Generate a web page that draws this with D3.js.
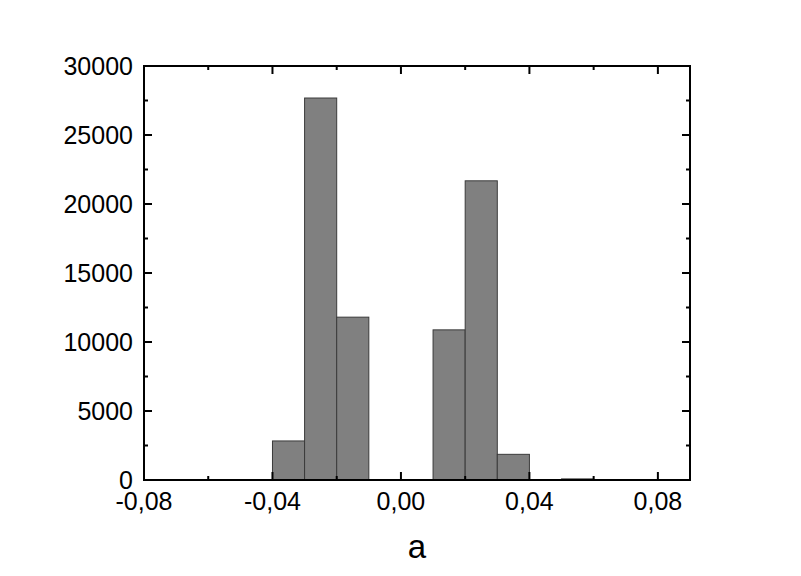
<!DOCTYPE html>
<html>
<head>
<meta charset="utf-8">
<script src="https://cdn.jsdelivr.net/npm/d3@7"></script>
<style>
  body { margin: 0; background: #fff; }
  text { font-family: "Liberation Sans", Arial, sans-serif; fill: #000; }
</style>
</head>
<body>
<svg id="svg" width="801" height="576"></svg>
<script>
// histogram bins (left edges, width 0.01) and counts
var binStarts = [-0.04, -0.03, -0.02, 0.01, 0.02, 0.03, 0.05]
var binCounts = [2830, 27680, 11800, 10880, 21680, 1860, 80]
var binWidth = 0.01

var xTicks = [-0.08, -0.04, 0.00, 0.04, 0.08]
var xMinor = [-0.06, -0.02, 0.02, 0.06]
var yTicks = [0, 5000, 10000, 15000, 20000, 25000, 30000]
var yMinor = [2500, 7500, 12500, 17500, 22500, 27500]
var xLabel = "a"

var pLeft = 144, pRight = 690, pTop = 66, pBottom = 480

var svg = d3.select("#svg")

var x = d3.scaleLinear().domain([-0.08, 0.09]).range([pLeft, pRight])
var y = d3.scaleLinear().domain([0, 30000]).range([pBottom, pTop])

var fmtX = function(d){ return d3.format(".2f")(d).replace(".", ",").replace("−", "-") }

// bars
svg.append("g").selectAll("rect")
  .data(binStarts)
  .enter().append("rect")
  .attr("x", d => x(d))
  .attr("width", d => x(d + binWidth) - x(d))
  .attr("y", (d, i) => y(binCounts[i]))
  .attr("height", (d, i) => y(0) - y(binCounts[i]))
  .attr("fill", "#808080")
  .attr("stroke", "#3a3a3a")
  .attr("stroke-width", 1)

// frame
svg.append("rect")
  .attr("x", pLeft).attr("y", pTop)
  .attr("width", pRight - pLeft).attr("height", pBottom - pTop)
  .attr("fill", "none").attr("stroke", "#000").attr("stroke-width", 2)

var ticks = svg.append("g").attr("stroke", "#000").attr("stroke-width", 2)
function xt(vals, len){
  vals.forEach(function(v){
    ticks.append("line").attr("x1", x(v)).attr("x2", x(v)).attr("y1", pBottom).attr("y2", pBottom - len)
    ticks.append("line").attr("x1", x(v)).attr("x2", x(v)).attr("y1", pTop).attr("y2", pTop + len)
  })
}
function yt(vals, len){
  vals.forEach(function(v){
    ticks.append("line").attr("y1", y(v)).attr("y2", y(v)).attr("x1", pLeft).attr("x2", pLeft + len)
    ticks.append("line").attr("y1", y(v)).attr("y2", y(v)).attr("x1", pRight).attr("x2", pRight - len)
  })
}
xt(xTicks, 8); xt(xMinor, 4)
yt(yTicks, 8); yt(yMinor, 4)

// tick labels
svg.append("g").selectAll("text")
  .data(xTicks)
  .enter().append("text")
  .attr("x", d => x(d))
  .attr("y", 510)
  .attr("text-anchor", "middle")
  .attr("font-size", 25)
  .text(fmtX)

svg.append("g").selectAll("text")
  .data(yTicks)
  .enter().append("text")
  .attr("x", 133)
  .attr("y", d => y(d) + 9)
  .attr("text-anchor", "end")
  .attr("font-size", 25)
  .text(d => d)

svg.append("text")
  .attr("x", (pLeft + pRight) / 2)
  .attr("y", 558)
  .attr("text-anchor", "middle")
  .attr("font-size", 33)
  .text(xLabel)
</script>
</body>
</html>
